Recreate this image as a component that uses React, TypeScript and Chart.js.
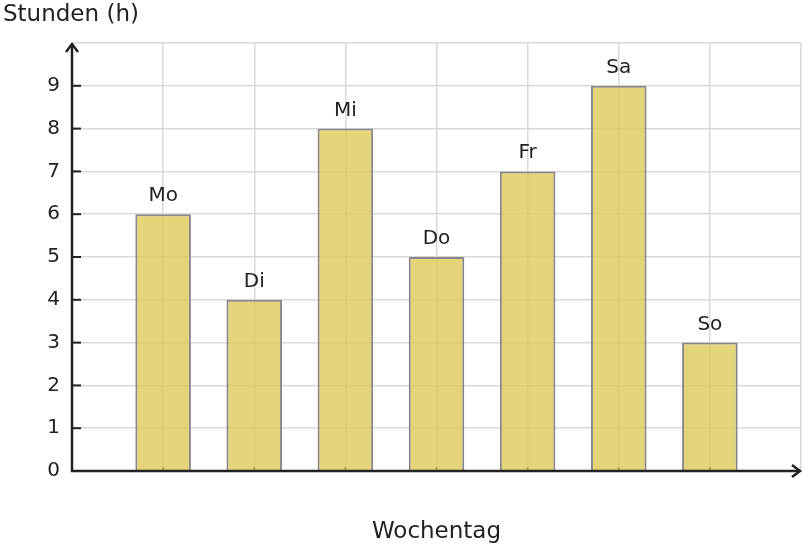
import { useEffect, useRef } from 'react';
import { Chart, registerables } from 'chart.js';
import type { Plugin } from 'chart.js';

Chart.register(...registerables);

const days = ['Mo', 'Di', 'Mi', 'Do', 'Fr', 'Sa', 'So'];
const hours = [6, 4, 8, 5, 7, 9, 3];
const yTickValues = [0, 1, 2, 3, 4, 5, 6, 7, 8, 9];
const xTitle = 'Wochentag';
const yTitle = 'Stunden (h)';

const FONT = '"DejaVu Sans", sans-serif';
const INK = '#222222';
const GRID = '#d9d9d9';

// empty slots left and right so the days sit on 1..7 of a 0..8 axis
const labels = ['', ...days, ''];
const values: (number | null)[] = [null, ...hours, null];

const decorPlugin: Plugin<'bar'> = {
  id: 'decor',
  beforeDatasetsDraw(chart) {
    const { ctx, chartArea, scales } = chart;
    ctx.save();
    ctx.strokeStyle = INK;
    ctx.lineWidth = 2;
    // small x ticks, drawn under the bars
    days.forEach((_, i) => {
      const px = scales.x.getPixelForValue(i + 1);
      ctx.beginPath();
      ctx.moveTo(px, chartArea.bottom);
      ctx.lineTo(px, chartArea.bottom - 4);
      ctx.stroke();
    });
    ctx.restore();
  },
  afterDatasetsDraw(chart) {
    const { ctx } = chart;
    const meta = chart.getDatasetMeta(0);
    ctx.save();
    ctx.fillStyle = INK;
    ctx.font = `20px ${FONT}`;
    ctx.textAlign = 'center';
    ctx.textBaseline = 'alphabetic';
    meta.data.forEach((bar, i) => {
      if (values[i] == null) return;
      ctx.fillText(labels[i], bar.x, bar.y - 13);
    });
    ctx.restore();
  },
  afterDraw(chart) {
    const { ctx, chartArea, scales } = chart;
    const { left, right, top, bottom } = chartArea;
    ctx.save();
    ctx.strokeStyle = INK;
    ctx.lineWidth = 2.5;
    ctx.lineCap = 'butt';
    ctx.lineJoin = 'miter';

    // y axis + arrow
    ctx.beginPath();
    ctx.moveTo(left, bottom + 1);
    ctx.lineTo(left, top + 1);
    ctx.stroke();
    ctx.beginPath();
    ctx.moveTo(left - 6, top + 9);
    ctx.lineTo(left, top + 1);
    ctx.lineTo(left + 6, top + 9);
    ctx.stroke();

    // x axis + arrow
    ctx.beginPath();
    ctx.moveTo(left - 1, bottom);
    ctx.lineTo(right - 1, bottom);
    ctx.stroke();
    ctx.beginPath();
    ctx.moveTo(right - 9, bottom - 6);
    ctx.lineTo(right - 1, bottom);
    ctx.lineTo(right - 9, bottom + 6);
    ctx.stroke();

    // y tick marks pointing into the plot
    ctx.lineWidth = 2;
    yTickValues.forEach((v) => {
      const py = scales.y.getPixelForValue(v);
      ctx.beginPath();
      ctx.moveTo(left, py);
      ctx.lineTo(left + 9, py);
      ctx.stroke();
    });

    // titles
    ctx.fillStyle = INK;
    ctx.font = `23px ${FONT}`;
    ctx.textAlign = 'left';
    ctx.textBaseline = 'alphabetic';
    ctx.fillText(yTitle, 3, 21);
    ctx.textAlign = 'center';
    ctx.fillText(xTitle, (left + right) / 2, 538);
    ctx.restore();
  },
};

export default function App() {
  const canvasRef = useRef<HTMLCanvasElement | null>(null);

  useEffect(() => {
    if (!canvasRef.current) return;
    const chart = new Chart(canvasRef.current, {
      type: 'bar',
      data: {
        labels,
        datasets: [
          {
            data: values,
            backgroundColor: 'rgba(221, 201, 89, 0.8)',
            borderColor: '#888888',
            borderWidth: 2,
            barPercentage: 0.61,
            categoryPercentage: 1,
          },
        ],
      },
      options: {
        animation: false,
        responsive: true,
        maintainAspectRatio: false,
        layout: { padding: { top: 43, right: 4, left: 0, bottom: 0 } },
        plugins: {
          legend: { display: false },
          tooltip: { enabled: false },
        },
        scales: {
          x: {
            type: 'category',
            offset: false,
            grid: { offset: false, color: GRID, lineWidth: 1.5, drawTicks: false },
            border: { display: false },
            ticks: { display: false },
            afterFit: (s) => {
              s.height = 77;
            },
          },
          y: {
            min: 0,
            max: 10,
            grid: { color: GRID, lineWidth: 1.5, drawTicks: false },
            border: { display: false },
            ticks: {
              stepSize: 1,
              padding: 12,
              color: INK,
              font: { size: 20, family: FONT },
              callback: (v) => (Number(v) === 10 ? '' : String(v)),
            },
            afterFit: (s) => {
              s.width = 72;
            },
          },
        },
      },
      plugins: [decorPlugin],
    });
    return () => {
      chart.destroy();
    };
  }, []);

  return (
    <div style={{ position: 'absolute', left: 0, top: 0, width: 805, height: 548, background: '#fff' }}>
      <canvas ref={canvasRef} />
    </div>
  );
}
